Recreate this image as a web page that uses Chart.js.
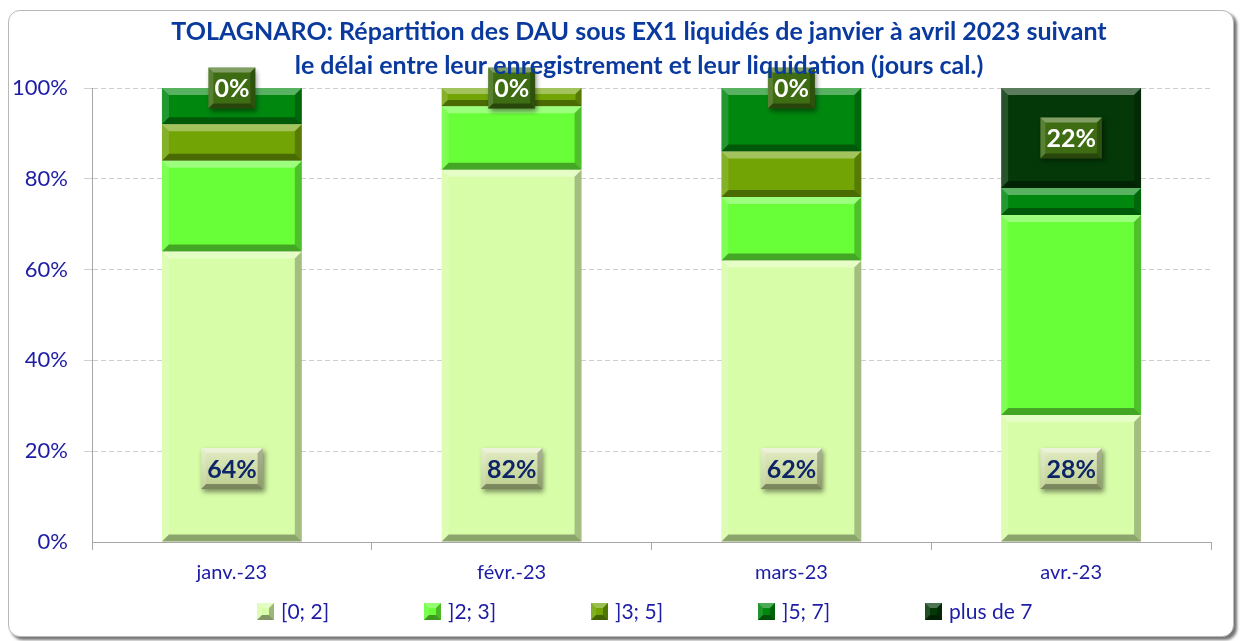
<!DOCTYPE html>
<html>
<head>
<meta charset="utf-8">
<script src="https://cdn.jsdelivr.net/npm/chart.js@4"></script>
<style>
    body { margin: 0; background: #ffffff; }
    #frame {
        position: absolute; left: 8px; top: 10px; width: 1224px; height: 625px;
        border: 1px solid #b8b8b8; border-radius: 12px;
        box-shadow: 3px 3px 3px rgba(0, 0, 0, 0.55);
        background: #ffffff;
    }
    #delai-chart { position: absolute; left: 0; top: 0; }
</style>
</head>
<body>
<div id="frame"></div>
<canvas id="delai-chart" width="1242" height="641"></canvas>
<script>
// Délai entre enregistrement et liquidation, en % des DAU
const categories = ['janv.-23', 'févr.-23', 'mars-23', 'avr.-23'];
const seriesLabels = ['[0; 2]', ']2; 3]', ']3; 5]', ']5; 7]', 'plus de 7'];
const delai0a2 = [64, 82, 62, 28];
const delai2a3 = [20, 14, 14, 44];
const delai3a5 = [8, 4, 10, 0];
const delai5a7 = [8, 0, 14, 6];
const delaiPlus7 = [0, 0, 0, 22];
const yTicks = [0, 20, 40, 60, 80, 100];
const titleLines = ['TOLAGNARO: Répartition des DAU sous EX1 liquidés de janvier à avril 2023 suivant',
                    'le délai entre leur enregistrement et leur liquidation (jours cal.)'];

const seriesColors = ['#d8fda8', '#68ff38', '#72a406', '#00880e', '#043808'];
const navy = '#1c1ca6';

// Draws a rectangle with a bevelled edge (light top/left, dark bottom/right)
function drawBevel(ctx, left, top, right, bottom, b, light, dark) {
    const poly = (pts, color) => {
        ctx.beginPath();
        ctx.moveTo(pts[0][0], pts[0][1]);
        pts.slice(1).forEach(p => ctx.lineTo(p[0], p[1]));
        ctx.closePath();
        ctx.fillStyle = color;
        ctx.fill();
    };
    poly([[left, top], [right, top], [right - b, top + b], [left + b, top + b]], `rgba(255,255,255,${light})`);
    poly([[left, top], [left + b, top + b], [left + b, bottom - b], [left, bottom]], `rgba(255,255,255,${light * 0.4})`);
    poly([[right, top], [right, bottom], [right - b, bottom - b], [right - b, top + b]], `rgba(0,0,0,${dark * 0.7})`);
    poly([[left, bottom], [right, bottom], [right - b, bottom - b], [left + b, bottom - b]], `rgba(0,0,0,${dark})`);
}

// Title drawn centred a little right of the canvas middle, as in the original
const offsetTitle = {
    id: 'offsetTitle',
    afterDraw(chart) {
        const ctx = chart.ctx;
        ctx.save();
        ctx.font = 'bold 25px Lato';
        ctx.fillStyle = '#0b3a9e';
        ctx.textAlign = 'center';
        ctx.textBaseline = 'middle';
        titleLines.forEach((line, i) => ctx.fillText(line, 639, 32 + i * 34));
        ctx.restore();
    }
};

// Bevels on the bars + value labels on first and last series
const bevelLabels = {
    id: 'bevelLabels',
    afterDatasetsDraw(chart) {
        const ctx = chart.ctx;
        ctx.save();
        chart.data.datasets.forEach((ds, i) => {
            chart.getDatasetMeta(i).data.forEach(bar => {
                const top = Math.min(bar.y, bar.base);
                const bottom = Math.max(bar.y, bar.base);
                const h = bottom - top;
                if (h < 1) return;
                const b = Math.min(7, h / 3);
                drawBevel(ctx, bar.x - bar.width / 2, top, bar.x + bar.width / 2, bottom, b, 0.35, 0.35);
            });
        });
        ctx.restore();
    },
    afterDraw(chart) {
        const ctx = chart.ctx;
        ctx.save();
        ctx.font = 'bold 25px Lato';
        ctx.textAlign = 'center';
        ctx.textBaseline = 'middle';
        [0, 4].forEach(i => {
            const ds = chart.data.datasets[i];
            chart.getDatasetMeta(i).data.forEach((bar, j) => {
                const txt = ds.data[j] + '%';
                const w = ctx.measureText(txt).width + 12;
                const hBox = 41;
                const cy = i === 0 ? bar.base - 73 : (bar.y + bar.base) / 2;
                const left = bar.x - w / 2, top = cy - hBox / 2;
                ctx.save();
                ctx.shadowColor = 'rgba(0,0,0,0.45)';
                ctx.shadowBlur = 5;
                ctx.shadowOffsetX = 2;
                ctx.shadowOffsetY = 3;
                if (i === 0) {
                    const g = ctx.createLinearGradient(0, top, 0, top + hBox);
                    g.addColorStop(0, '#e2ecc4');
                    g.addColorStop(1, '#bccd8e');
                    ctx.fillStyle = g;
                } else {
                    ctx.fillStyle = '#3e6c12';
                }
                ctx.fillRect(left, top, w, hBox);
                ctx.restore();
                drawBevel(ctx, left, top, left + w, top + hBox, 5, 0.35, 0.35);
                ctx.fillStyle = i === 0 ? '#0d2466' : '#ffffff';
                ctx.fillText(txt, bar.x, cy + 1);
            });
        });
        ctx.restore();
    }
};

// Legend drawn with even spacing, like the original
const evenLegend = {
    id: 'evenLegend',
    afterDraw(chart) {
        const ctx = chart.ctx;
        const y = chart.chartArea.bottom + 69;
        ctx.save();
        ctx.font = '21px Lato';
        ctx.textBaseline = 'middle';
        ctx.textAlign = 'left';
        chart.data.datasets.forEach((ds, i) => {
            const x = 257 + i * 167;
            ctx.fillStyle = ds.backgroundColor;
            ctx.fillRect(x, y - 8, 17, 17);
            drawBevel(ctx, x, y - 8, x + 17, y + 9, 5, 0.3, 0.4);
            ctx.fillStyle = navy;
            ctx.fillText(ds.label, x + 24, y + 1);
        });
        ctx.restore();
    }
};

const seriesData = [delai0a2, delai2a3, delai3a5, delai5a7, delaiPlus7];

new Chart(document.getElementById('delai-chart').getContext('2d'), {
    type: 'bar',
    data: {
        labels: categories,
        datasets: seriesData.map((values, i) => ({
            label: seriesLabels[i],
            data: values,
            backgroundColor: seriesColors[i],
            borderWidth: 0,
            barPercentage: 0.5,
            categoryPercentage: 1
        }))
    },
    options: {
        responsive: false,
        animation: false,
        layout: { padding: { left: 0, right: 31, top: 88, bottom: 0 } },
        plugins: {
            legend: { display: false },
            tooltip: { enabled: false },
            title: { display: false }
        },
        scales: {
            x: {
                stacked: true,
                afterFit: scale => { scale.height = 99; },
                grid: { drawOnChartArea: false, tickLength: 8, color: '#a6a6a6' },
                border: { color: '#a6a6a6' },
                ticks: { color: navy, font: { family: 'Lato', size: 20 }, padding: 11 }
            },
            y: {
                stacked: true,
                min: yTicks[0],
                max: yTicks[yTicks.length - 1],
                afterFit: scale => { scale.width = 92; },
                afterBuildTicks: scale => { scale.ticks = yTicks.map(v => ({ value: v })); },
                grid: {
                    color: ctx => ctx.tick && ctx.tick.value === 0 ? 'rgba(0,0,0,0)' : '#cfcfcf',
                    tickLength: 8
                },
                border: { color: '#a6a6a6', dash: [5, 3] },
                ticks: {
                    color: navy,
                    font: { family: 'Lato', size: 22 },
                    padding: 16,
                    callback: v => v + '%'
                }
            }
        }
    },
    plugins: [bevelLabels, evenLegend, offsetTitle]
});
</script>
</body>
</html>
